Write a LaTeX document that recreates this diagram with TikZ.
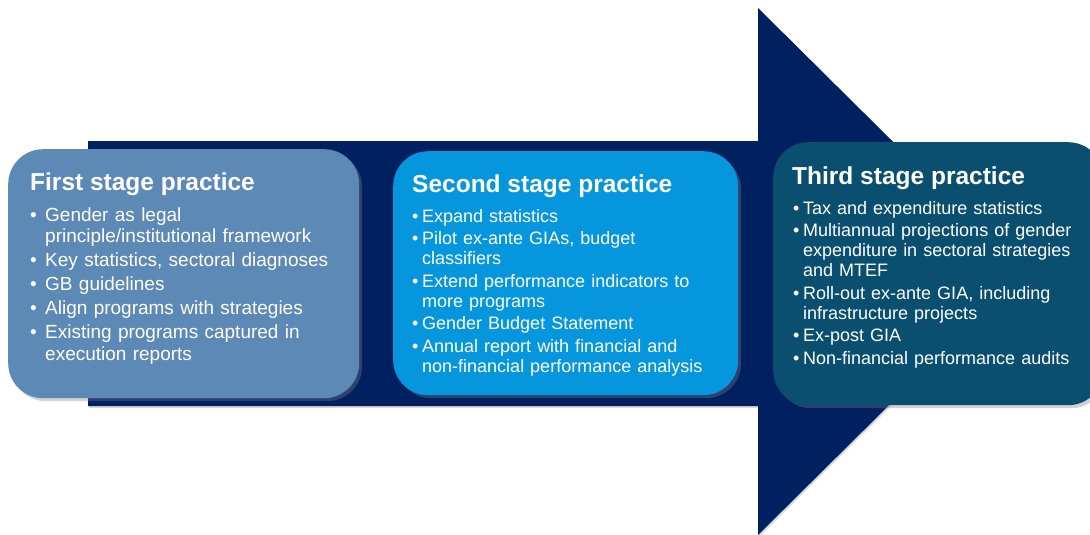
\documentclass[tikz,border=0pt]{standalone}
\usepackage{fontspec}
\setmainfont{Liberation Sans}
\usetikzlibrary{shadows}
\definecolor{navy}{RGB}{0,32,96}
\definecolor{stepone}{RGB}{93,137,182}
\definecolor{steptwo}{RGB}{6,150,222}
\definecolor{stepthree}{RGB}{10,79,112}
\newcommand{\stagefirst}[2]{\hangindent=#1\hangafter=1\makebox[#1][l]{•}#2}
\newcommand{\stageitem}[2]{\par\hangindent=#1\hangafter=1\noindent\makebox[#1][l]{•}#2}
\begin{document}
\begin{tikzpicture}[x=1pt,y=-1pt,
  stagebox/.style={rounded corners=35pt, draw=none, anchor=north west, inner sep=0pt,
    drop shadow={opacity=0.35, shadow xshift=3pt, shadow yshift=-3pt}},
  stagetitle/.style={text=white, font=\bfseries\fontsize{24.5}{28}\selectfont, anchor=base west, inner sep=0pt},
  stagebody/.style={text=white, anchor=base west, inner sep=0pt, text width=330pt}
]
\useasboundingbox (0,0) rectangle (1090,535);
\clip (0,0) rectangle (1090,535);
\fill[white] (0,0) rectangle (1090,535);

% big arrow
\fill[navy, drop shadow={opacity=0.3, shadow xshift=1pt, shadow yshift=-2pt}]
  (88,141) -- (758,141) -- (758,8) -- (1024,271.5) -- (758,535) -- (758,406) -- (88,406) -- cycle;

% stage boxes
\node[stagebox, fill=stepone, minimum width=351pt, minimum height=249pt] (s1) at (8,149) {};
\node[stagebox, fill=steptwo, minimum width=345pt, minimum height=244pt] (s2) at (393,151) {};
\node[stagebox, fill=stepthree, minimum width=330pt, minimum height=263pt] (s3) at (773,142) {};

% titles
\node[stagetitle] (t1) at (30,190) {First stage practice};
\node[stagetitle] (t2) at (412,192) {Second stage practice};
\node[stagetitle] (t3) at (792,184) {Third stage practice};

% bodies
\node[stagebody, font=\fontsize{19}{21.5}\selectfont] (b1) at (30,221) {%
  \setlength{\parskip}{2.5pt}%
  \stagefirst{15pt}{Gender as legal\newline principle/institutional framework}
  \stageitem{15pt}{Key statistics, sectoral diagnoses}
  \stageitem{15pt}{GB guidelines}
  \stageitem{15pt}{Align programs with strategies}
  \stageitem{15pt}{Existing programs captured in\newline execution reports}\par};

\node[stagebody, font=\fontsize{18}{20}\selectfont] (b2) at (412,222) {%
  \setlength{\parskip}{2.5pt}%
  \stagefirst{10pt}{Expand statistics}
  \stageitem{10pt}{Pilot ex-ante GIAs, budget\newline classifiers}
  \stageitem{10pt}{Extend performance indicators to\newline more programs}
  \stageitem{10pt}{Gender Budget Statement}
  \stageitem{10pt}{Annual report with financial and\newline non-financial performance analysis}\par};

\node[stagebody, font=\fontsize{18}{20}\selectfont] (b3) at (793,214) {%
  \setlength{\parskip}{2.5pt}%
  \stagefirst{10pt}{Tax and expenditure statistics}
  \stageitem{10pt}{Multiannual projections of gender\newline expenditure in sectoral strategies\newline and MTEF}
  \stageitem{10pt}{Roll-out ex-ante GIA, including\newline infrastructure projects}
  \stageitem{10pt}{Ex-post GIA}
  \stageitem{10pt}{Non-financial performance audits}\par};
\end{tikzpicture}
\end{document}
